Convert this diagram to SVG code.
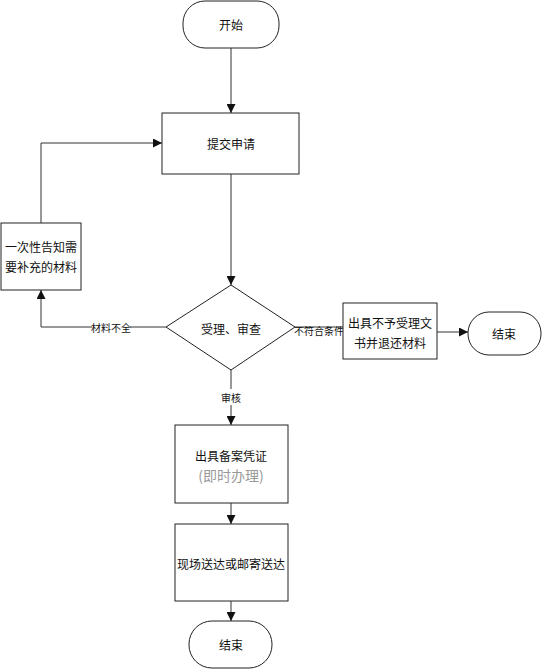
<svg xmlns="http://www.w3.org/2000/svg" width="552" height="670" viewBox="0 0 552 670">
<style>
.n{fill:#fff;stroke:#222;stroke-width:1}
.t{font-family:"Noto Sans CJK SC","Liberation Sans",sans-serif;font-size:12px;fill:#111;text-anchor:middle;dominant-baseline:central}
.l{font-family:"Noto Sans CJK SC","Liberation Sans",sans-serif;font-size:10px;fill:#111;text-anchor:middle;dominant-baseline:central}
.c{fill:none;stroke:#333;stroke-width:1}
</style>
<defs>
<marker id="a" viewBox="0 0 10 10" refX="10" refY="5" markerWidth="9" markerHeight="9" markerUnits="userSpaceOnUse" orient="auto">
<path d="M0,0 L10,5 L0,10 Z" fill="#111"/>
</marker>
</defs>
<rect width="552" height="670" fill="#fff"/>
<g id="connectors">
<path class="c" d="M231,48 V113" marker-end="url(#a)"/>
<path class="c" d="M231,174 V285" marker-end="url(#a)"/>
<path class="c" d="M41,223 V143 H162" marker-end="url(#a)"/>
<path class="c" d="M166,327 H130 M92,327 H41 V290" marker-end="url(#a)"/>
<path class="c" d="M295,327 H343"/>
<path class="c" d="M437,332 H468" marker-end="url(#a)"/>
<path class="c" d="M231,370 V389 M231,405 V425" marker-end="url(#a)"/>
<path class="c" d="M231,503 V524" marker-end="url(#a)"/>
<path class="c" d="M231,601 V621" marker-end="url(#a)"/>
<text class="l" x="111" y="327">材料不全</text>
<text class="l" x="319" y="330">不符合条件</text>
<text class="l" x="231" y="397">审核</text>
</g>
<g id="start"><rect class="n" x="183" y="1" width="96" height="47" rx="22"/><text class="t" x="231" y="24">开始</text></g>
<g id="submit"><rect class="n" x="162" y="113" width="137" height="61"/><text class="t" x="231" y="143">提交申请</text></g>
<g id="notify"><rect class="n" x="1" y="223" width="80" height="67"/><text class="t" x="41" y="246">一次性告知需</text><text class="t" x="41" y="266">要补充的材料</text></g>
<g id="review"><polygon class="n" points="231,285 295,327 231,370 166,327"/><text class="t" x="231" y="328">受理、审查</text></g>
<g id="reject"><rect class="n" x="343" y="303" width="94" height="56"/><text class="t" x="390" y="322">出具不予受理文</text><text class="t" x="390" y="342">书并退还材料</text></g>
<g id="end1"><rect class="n" x="468" y="312" width="73" height="43" rx="21"/><text class="t" x="504" y="333">结束</text></g>
<g id="cert"><rect class="n" x="175" y="425" width="113" height="78"/><text class="t" x="231" y="455">出具备案凭证</text><text class="t" x="231" y="475" style="font-size:14px;fill:#999">(即时办理)</text></g>
<g id="deliver"><rect class="n" x="175" y="524" width="113" height="77"/><text class="t" x="231" y="563">现场送达或邮寄送达</text></g>
<g id="end2"><rect class="n" x="189" y="621" width="83" height="47" rx="23"/><text class="t" x="231" y="644">结束</text></g>
</svg>
